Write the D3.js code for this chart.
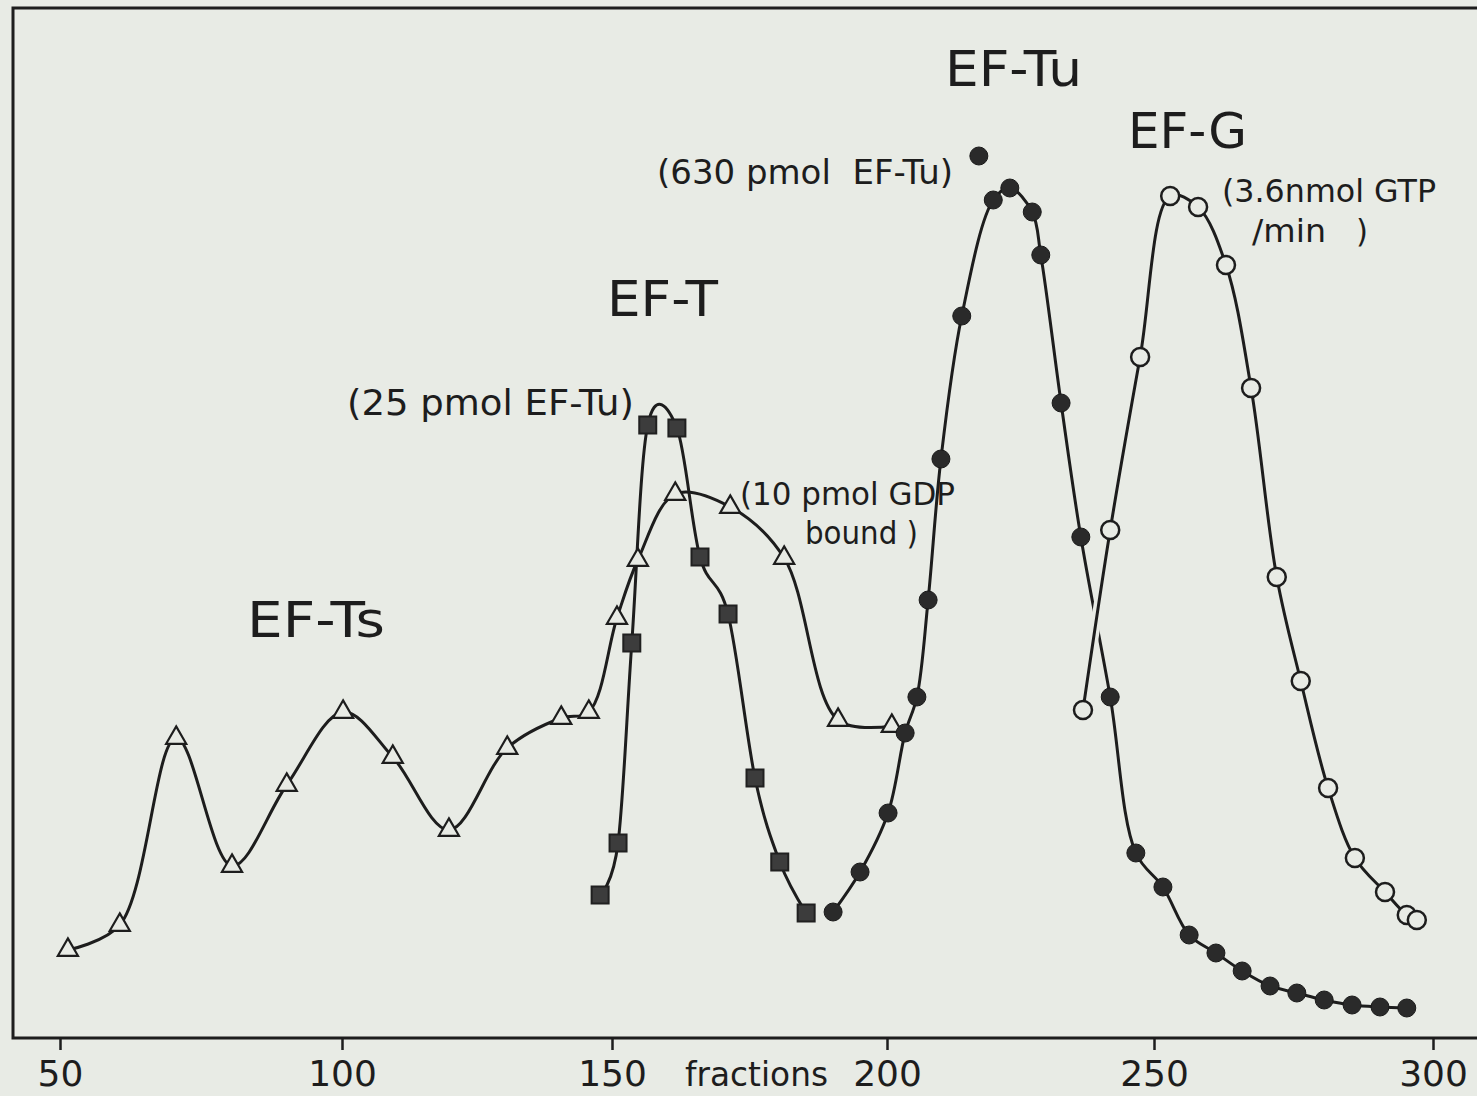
<!DOCTYPE html>
<html>
<head>
<meta charset="utf-8">
<script src="https://cdn.jsdelivr.net/npm/d3@7"></script>
<style>
  html, body { margin: 0; padding: 0; background: #e8ebe5; }
  svg { display: block; }
  text { font-family: "DejaVu Sans", sans-serif; fill: #1d1d1d; white-space: pre; }
</style>
</head>
<body>
<div id="chart"></div>
<script>
// fractions on the x axis, activity (arbitrary units) on y

const xTicks = [50, 100, 150, 200, 250, 300];

// EF-Ts / EF-T (GDP binding, open triangles)
const tsFrac = [51.4, 60.6, 70.6, 80.5, 90.2, 100.2, 109.4, 119.8, 130.6, 140.6, 145.7,
                150.9, 154.7, 161.5, 171.5, 181.3, 191.1, 200.9];
const tsVal  = [8.8, 11.3, 30.0, 17.2, 25.3, 32.6, 28.1, 20.8, 29.0, 32.0, 32.6,
                42.0, 47.8, 54.4, 53.1, 48.0, 31.8, 31.2];

// EF-T (filled squares)
const tFrac = [147.8, 151.1, 153.6, 156.5, 161.8, 166.0, 171.1, 176.0, 180.5, 185.3];
const tVal  = [14.3, 19.5, 39.5, 61.3, 61.0, 48.1, 42.4, 26.0, 17.6, 12.5];

// EF-Tu (filled circles)
const tuFrac = [190.2, 195.1, 200.2, 203.4, 205.6, 207.7, 210.1, 214.0, 219.9, 223.0,
                227.2, 228.8, 232.6, 236.3, 241.8, 246.6, 251.6, 256.3, 261.1, 265.8,
                270.8, 275.6, 280.5, 285.5, 290.5, 295.3];
const tuVal  = [12.6, 16.6, 22.5, 30.5, 34.1, 43.8, 57.9, 72.2, 83.8, 85.0,
                82.6, 78.3, 63.5, 50.1, 34.1, 18.5, 15.1, 10.3, 8.5, 6.7,
                5.2, 4.5, 3.8, 3.3, 3.1, 3.0];
// point off the curve
const tuOffFrac = [217.2];
const tuOffVal  = [88.2];

// EF-G (open circles)
const gFrac = [236.7, 241.8, 247.4, 252.9, 257.9, 262.9, 267.4, 272.0, 276.3, 281.2,
               286.0, 291.4, 295.3, 297.1];
const gVal  = [32.8, 50.8, 68.1, 84.2, 83.1, 77.3, 65.0, 46.1, 35.7, 25.0,
               18.0, 14.6, 12.3, 11.8];

const width = 1477, height = 1096;
const frameLeft = 13, frameTop = 8, axisY = 1038;
const bg = "#e8ebe5", ink = "#1d1d1d";

const svg = d3.select("#chart").append("svg")
  .attr("width", width)
  .attr("height", height);

svg.append("rect").attr("width", width).attr("height", height).attr("fill", bg);

// the printed axis is not quite even, so the scale follows its tick marks
const x = d3.scaleLinear()
  .domain(xTicks)
  .range([60, 342, 612, 887, 1154, 1433]);

const y = d3.scaleLinear()
  .domain([0, 100])
  .range([axisY, axisY - 1000]);

const zip = (a, b) => a.map((v, i) => [v, b[i]]);

// frame: top, left and bottom, open on the right
svg.append("path")
  .attr("d", `M${width},${frameTop}H${frameLeft}V${axisY}H${width}`)
  .attr("fill", "none")
  .attr("stroke", ink)
  .attr("stroke-width", 3);

const ax = svg.append("g")
  .attr("transform", `translate(0,${axisY})`)
  .call(d3.axisBottom(x).tickValues(xTicks).tickSize(12).tickPadding(10).tickFormat(d3.format("d")));
ax.select(".domain").remove();
ax.selectAll(".tick line").attr("stroke", ink).attr("stroke-width", 2.5);
ax.selectAll(".tick text")
  .style("font-family", "'DejaVu Sans', sans-serif")
  .style("font-size", "36px")
  .attr("fill", ink);

svg.append("text")
  .attr("x", 685)
  .attr("y", axisY + 48)
  .attr("textLength", 143)
  .attr("lengthAdjust", "spacingAndGlyphs")
  .style("font-size", "34px")
  .text("fractions");

// curves
const line = d3.line()
  .x(d => x(d[0]))
  .y(d => y(d[1]));

const series = [
  { pts: zip(tsFrac, tsVal), curve: d3.curveCatmullRom.alpha(0.5) },
  { pts: zip(tFrac, tVal), curve: d3.curveCatmullRom.alpha(0) },
  { pts: zip(tuFrac, tuVal), curve: d3.curveCatmullRom.alpha(0.5) }
];
svg.append("g")
  .selectAll("path")
  .data(series)
  .join("path")
  .attr("d", d => line.curve(d.curve)(d.pts))
  .attr("fill", "none")
  .attr("stroke", ink)
  .attr("stroke-width", 3)
  .attr("stroke-linejoin", "round");

// EF-G drawn last, with a paper-coloured edge that breaks the EF-Tu line where they cross
const gPath = line.curve(d3.curveCatmullRom.alpha(0.5))(zip(gFrac, gVal));
svg.append("path")
  .attr("d", gPath)
  .attr("fill", "none")
  .attr("stroke", bg)
  .attr("stroke-width", 10);
svg.append("path")
  .attr("d", gPath)
  .attr("fill", "none")
  .attr("stroke", ink)
  .attr("stroke-width", 3);

// markers
svg.append("g").selectAll("path")
  .data(zip(tsFrac, tsVal))
  .join("path")
  .attr("transform", d => `translate(${x(d[0])},${y(d[1])})`)
  .attr("d", d3.symbol(d3.symbolTriangle, 175))
  .attr("fill", bg)
  .attr("stroke", ink)
  .attr("stroke-width", 2.2);

svg.append("g").selectAll("rect")
  .data(zip(tFrac, tVal))
  .join("rect")
  .attr("x", d => x(d[0]) - 8.5)
  .attr("y", d => y(d[1]) - 8.5)
  .attr("width", 17)
  .attr("height", 17)
  .attr("fill", "#3c3c3c")
  .attr("stroke", "#202020")
  .attr("stroke-width", 2);

svg.append("g").selectAll("circle")
  .data(zip(tuFrac, tuVal).concat(zip(tuOffFrac, tuOffVal)))
  .join("circle")
  .attr("cx", d => x(d[0]))
  .attr("cy", d => y(d[1]))
  .attr("r", 9)
  .attr("fill", "#2a2a2a")
  .attr("stroke", "#1a1a1a")
  .attr("stroke-width", 1);

svg.append("g").selectAll("circle")
  .data(zip(gFrac, gVal))
  .join("circle")
  .attr("cx", d => x(d[0]))
  .attr("cy", d => y(d[1]))
  .attr("r", 9)
  .attr("fill", bg)
  .attr("stroke", ink)
  .attr("stroke-width", 2.5);

// labels (w = printed width)
const bigLabels = [
  { t: "EF-Ts", x: 247, y: 637, w: 138 },
  { t: "EF-T", x: 607, y: 316, w: 111 },
  { t: "EF-Tu", x: 945, y: 86, w: 137 },
  { t: "EF-G", x: 1128, y: 148, w: 119 }
];
svg.append("g").selectAll("text")
  .data(bigLabels)
  .join("text")
  .attr("x", d => d.x)
  .attr("y", d => d.y)
  .attr("textLength", d => d.w)
  .attr("lengthAdjust", "spacingAndGlyphs")
  .style("font-size", "50px")
  .text(d => d.t);

const notes = [
  { t: "(25 pmol EF-Tu)", x: 347, y: 415, s: 35, w: 287 },
  { t: "(10 pmol GDP", x: 740, y: 505, s: 32, w: 215 },
  { t: "bound )", x: 805, y: 544, s: 32, w: 113 },
  { t: "(630 pmol  EF-Tu)", x: 657, y: 184, s: 33, w: 296 },
  { t: "(3.6nmol GTP", x: 1222, y: 202, s: 32, w: 214 },
  { t: "/min", x: 1252, y: 242, s: 32, w: 74 },
  { t: ")", x: 1356, y: 242, s: 32, w: 12 }
];
svg.append("g").selectAll("text")
  .data(notes)
  .join("text")
  .attr("x", d => d.x)
  .attr("y", d => d.y)
  .attr("textLength", d => d.w)
  .attr("lengthAdjust", "spacingAndGlyphs")
  .style("font-size", d => d.s + "px")
  .text(d => d.t);
</script>
</body>
</html>
